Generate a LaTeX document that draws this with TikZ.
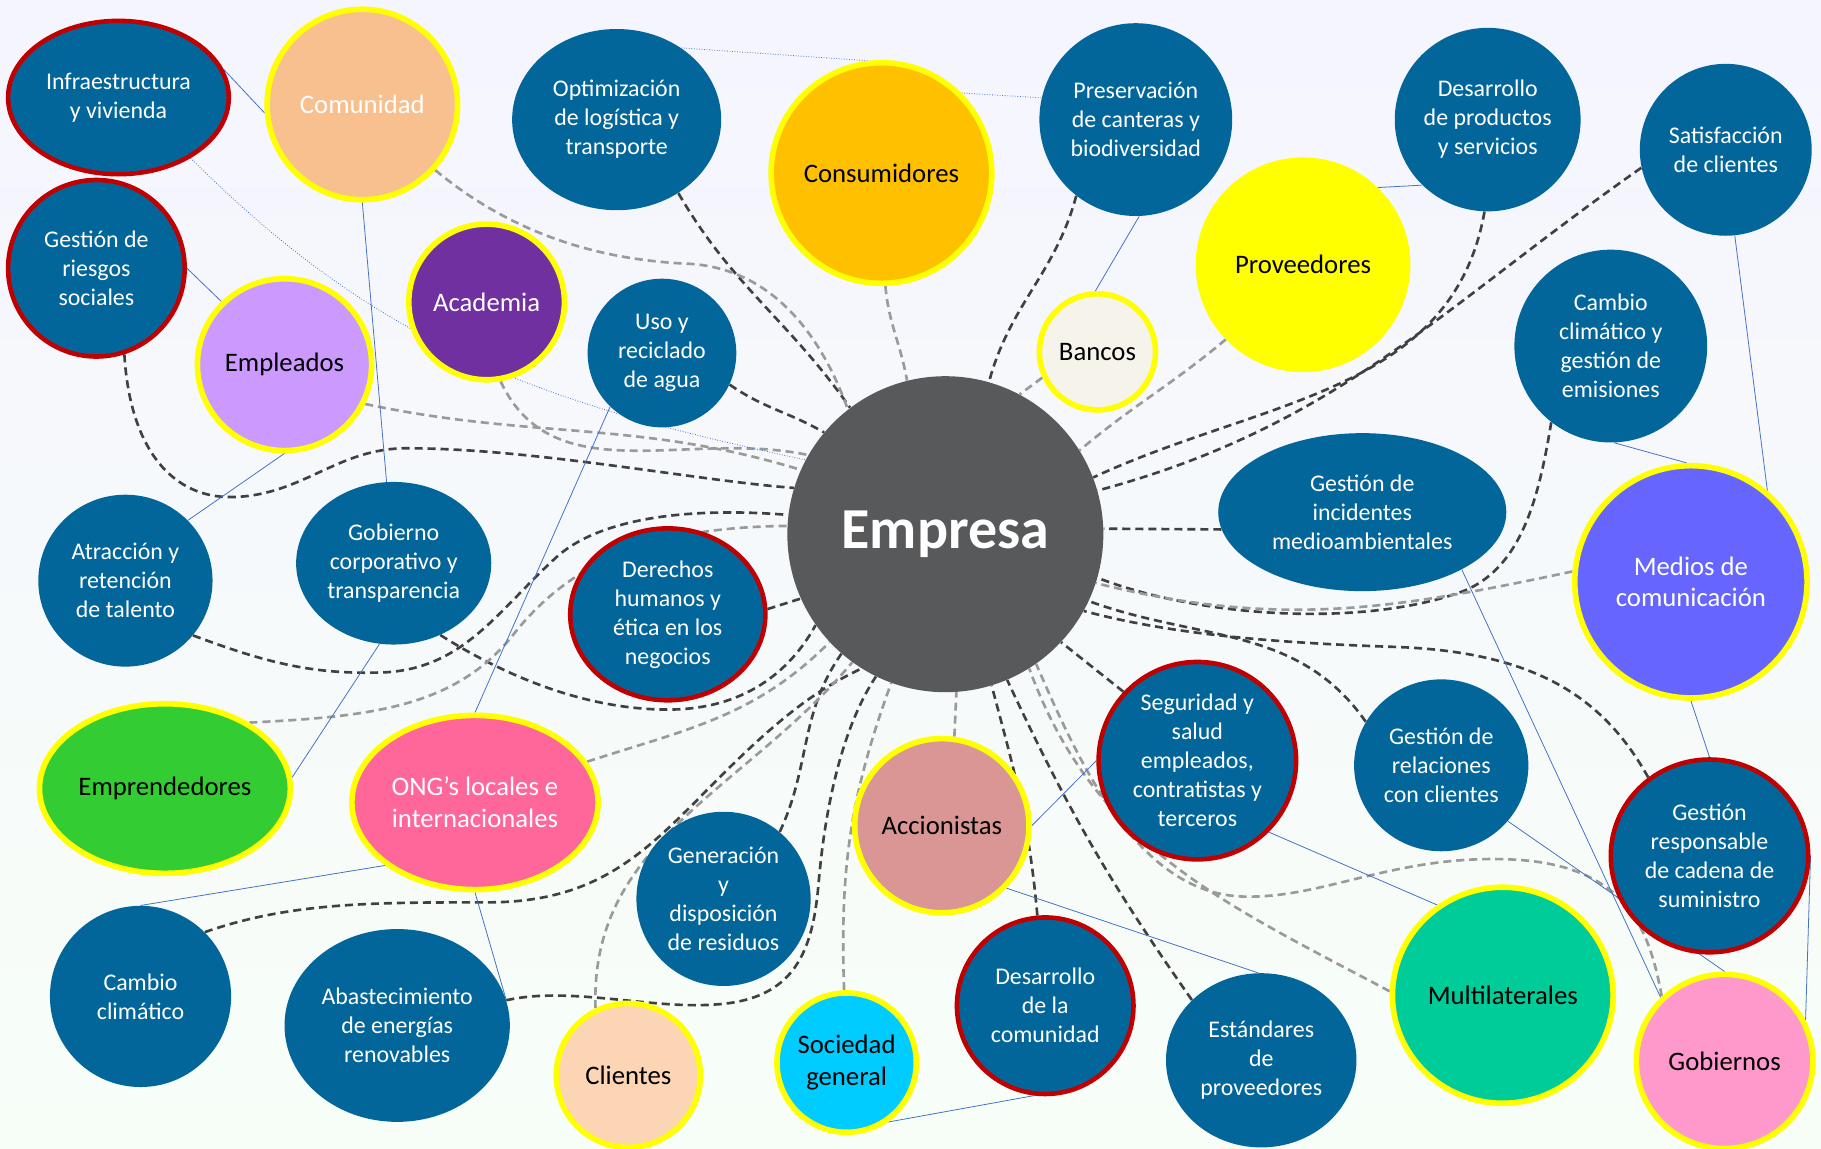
\documentclass[tikz,border=0pt]{standalone}
\usepackage{fontspec}
\setmainfont{Carlito}
\usetikzlibrary{shapes.geometric}

\definecolor{topicblue}{HTML}{03669A}
\definecolor{critred}{HTML}{C00000}
\definecolor{ringyellow}{HTML}{FFFF00}
\definecolor{darkdash}{HTML}{404040}
\definecolor{lightdash}{HTML}{9A9A9A}
\definecolor{linkblue}{HTML}{4472C4}
\definecolor{cEmpresa}{HTML}{58595B}
\definecolor{cComunidad}{HTML}{F9C08F}
\definecolor{cConsum}{HTML}{FFC000}
\definecolor{cProvee}{HTML}{FFFF00}
\definecolor{cBancos}{HTML}{F5F3EA}
\definecolor{cEmpleados}{HTML}{CC99FF}
\definecolor{cAcademia}{HTML}{7030A0}
\definecolor{cMedios}{HTML}{6666FF}
\definecolor{cEmprend}{HTML}{33CC33}
\definecolor{cOng}{HTML}{FF6699}
\definecolor{cAccion}{HTML}{D99694}
\definecolor{cClientes}{HTML}{FCD5B5}
\definecolor{cSociedad}{HTML}{00CCFF}
\definecolor{cMultilat}{HTML}{00CC99}
\definecolor{cGobiernos}{HTML}{FF99CC}

\pgfdeclarelayer{back}
\pgfdeclarelayer{links}
\pgfsetlayers{back,links,main}

\tikzset{
  topic/.style={ellipse, fill=topicblue, text=white, align=center, inner sep=-6pt,
    font=\fontsize{13.6}{16.5}\selectfont},
  critical/.style={topic, draw=critred, line width=2.6pt},
  group/.style={ellipse, draw=ringyellow, line width=3.2pt, align=center, inner sep=-6pt,
    font=\fontsize{15.2}{18}\selectfont},
  sz/.style 2 args={minimum width=#1*1.3218pt, minimum height=#2*1.3218pt},
  dk/.style={draw=darkdash, line width=1.5pt, dash pattern=on 4.6pt off 2.8pt},
  lt/.style={dk, draw=lightdash},
  bl/.style={draw=linkblue, line width=0.45pt},
}

\begin{document}
\begin{tikzpicture}[x=0.023228cm, y=0.023228cm]
\useasboundingbox (0,0) rectangle (1568,989);
\begin{pgfonlayer}{back}
\shade[top color=black!3!blue!4!white, bottom color=black!14!green!3!white] (0,0) rectangle (1568,989);
\end{pgfonlayer}

% top row
\node[critical, sz={95}{66}] (infra) at (102,905) {Infraestructura\\y vivienda};
\node[group, fill=cComunidad, text=white, sz={82}{82}] (comunidad) at (312,899) {Comunidad};
\node[topic, sz={90}{78}] (optim) at (531,886) {Optimización\\de logística y\\transporte};
\node[group, fill=cConsum, sz={95}{95}] (consum) at (759,840) {Consumidores};
\node[topic, sz={83}{83}] (preserv) at (978,886) {Preservación\\de canteras y\\biodiversidad};
\node[topic, sz={80}{79}] (desprod) at (1281,886) {Desarrollo\\de productos\\y servicios};
\node[topic, sz={74}{74}] (satisf) at (1486,860) {Satisfacción\\de clientes};

% second band
\node[critical, sz={76}{76}] (riesgos) at (83,758) {Gestión de\\riesgos\\sociales};
\node[group, fill=cEmpleados, sz={75}{74}] (emplead) at (245,675) {Empleados};
\node[group, fill=cAcademia, text=white, sz={67}{67}] (academia) at (419,729) {Academia};
\node[topic, sz={64}{64}] (agua) at (570,685) {Uso y\\reciclado\\de agua};
\node[group, fill=cBancos, sz={50}{50}] (bancos) at (945,686) {Bancos};
\node[group, fill=cProvee, sz={90}{90}] (provee) at (1122,761) {Proveedores};
\node[topic, sz={83}{83}] (emisiones) at (1387,691) {Cambio\\climático y\\gestión de\\emisiones};

% centre
\node[circle, fill=cEmpresa, text=white, minimum size=179.8pt,
  font=\fontsize{33}{38}\selectfont\bfseries] (empresa) at (814,529) {Empresa};
\node[topic, sz={124}{68}] (incidentes) at (1173,548) {Gestión de\\incidentes\\medioambientales};
\node[group, fill=cMedios, text=white, sz={100}{100}] (medios) at (1456,488) {Medios de\\comunicación};
\node[topic, sz={75}{74}] (talento) at (108,489) {Atracción y\\retención\\de talento};
\node[topic, sz={84}{70}] (gobcorp) at (339,504) {Gobierno\\corporativo y\\transparencia};
\node[critical, sz={84}{74}] (ddhh) at (575,460) {Derechos\\humanos y\\ética en los\\negocios};

% lower band
\node[group, fill=cEmprend, sz={108}{73}] (emprend) at (142,310) {Emprendedores};
\node[group, fill=cOng, text=white, sz={106}{75}] (ong) at (409,298) {ONG’s locales e\\internacionales};
\node[topic, sz={75}{75}] (residuos) at (623,215) {Generación\\y\\disposición\\de residuos};
\node[group, fill=cAccion, sz={75}{75}] (accion) at (811,278) {Accionistas};
\node[critical, sz={85}{85}] (seguridad) at (1031,334) {Seguridad y\\salud\\empleados,\\contratistas y\\terceros};
\node[topic, sz={75}{74}] (relclientes) at (1241,330) {Gestión de\\relaciones\\con clientes};
\node[critical, sz={85}{83}] (cadena) at (1472,252) {Gestión\\responsable\\de cadena de\\suministro};

% bottom row
\node[topic, sz={78}{78}] (cambio) at (121,131) {Cambio\\climático};
\node[topic, sz={97}{83}] (energias) at (342,106) {Abastecimiento\\de energías\\renovables};
\node[group, fill=cClientes, sz={62}{62}] (clientes) at (541,63) {Clientes};
\node[group, fill=cSociedad, sz={60}{60}] (sociedad) at (729,74) {Sociedad\\general};
\node[critical, sz={76}{76}] (descom) at (900,123) {Desarrollo\\de la\\comunidad};
\node[topic, sz={82}{75}] (estandares) at (1086,76) {Estándares\\de\\proveedores};
\node[group, fill=cMultilat, sz={95}{93}] (multilat) at (1294,132) {Multilaterales};
\node[group, fill=cGobiernos, sz={76}{75}] (gobiernos) at (1485,75) {Gobiernos};

\begin{pgfonlayer}{links}
% dark dashed ties to Empresa
\draw[dk] (optim.-50) to[out=-60,in=125] (empresa.127);
\draw[dk] (agua.-25) to[out=-35,in=150] (empresa.140);
\draw[dk] (preserv.-128) to[out=-105,in=75] (empresa.74);
\draw[dk] (desprod.-92) to[out=-100,in=25] (empresa.21);
\draw[dk] (satisf.192) to[out=215,in=15] (empresa.16);
\draw[dk] (emisiones.-128) .. controls (1325,560) and (1310,500) .. (1260,480)
  .. controls (1180,450) and (1040,455) .. (empresa.-16);
\draw[dk] (incidentes.187) -- (empresa.2);
\draw[dk] (relclientes.150) to[out=125,in=-20] (empresa.-25);
\draw[dk] (cadena.128) .. controls (1380,390) and (1320,428) .. (1200,432)
  .. controls (1080,436) and (1000,445) .. (empresa.-29);
\draw[dk] (seguridad.137) -- (empresa.-43);
\draw[dk] (estandares.139) to[out=125,in=-65] (empresa.-67);
\draw[dk] (descom.95) to[out=95,in=-75] (empresa.-73);
\draw[dk] (residuos.50) to[out=65,in=235] (empresa.229);
\draw[dk] (energias.13) .. controls (490,140) and (560,120) .. (615,124)
  .. controls (685,128) and (700,170) .. (705,230)
  .. controls (712,310) and (730,370) .. (empresa.244);
\draw[dk] (cambio.45) .. controls (250,212) and (320,212) .. (420,212)
  .. controls (520,212) and (560,260) .. (620,320)
  .. controls (680,380) and (710,398) .. (empresa.238);
\draw[dk] (ddhh.3) -- (empresa.204);
\draw[dk] (gobcorp.-57) .. controls (430,410) and (500,378) .. (575,378)
  .. controls (640,378) and (680,410) .. (empresa.215);
\draw[dk] (talento.-39) .. controls (230,418) and (270,408) .. (330,410)
  .. controls (400,413) and (430,465) .. (480,510)
  .. controls (520,545) and (600,552) .. (empresa.173);
\draw[dk] (riesgos.-72) .. controls (112,600) and (150,560) .. (200,561)
  .. controls (260,562) and (290,603) .. (350,603)
  .. controls (460,603) and (600,575) .. (empresa.163);

% light dashed ties to Empresa
\draw[lt] (comunidad.-42) .. controls (450,780) and (530,765) .. (590,762)
  .. controls (650,760) and (700,720) .. (empresa.128);
\draw[lt] (academia.-80) to[out=-65,in=168] (empresa.150);
\draw[lt] (emplead.-26) to[out=-12,in=163] (empresa.156);
\draw[lt] (emprend.38) .. controls (320,372) and (390,380) .. (440,440)
  .. controls (490,505) and (560,535) .. (empresa.177);
\draw[lt] (ong.20) to[out=18,in=225] (empresa.223);
\draw[lt] (clientes.116) to[out=92,in=230] (empresa.234);
\draw[lt] (sociedad.92) to[out=92,in=250] (empresa.250);
\draw[lt] (accion.82) -- (empresa.-86);
\draw[lt] (multilat.178) to[out=152,in=-70] (empresa.-58);
\draw[lt] (gobiernos.134) .. controls (1420,190) and (1400,245) .. (1300,249)
  .. controls (1200,253) and (1140,215) .. (1070,217)
  .. controls (980,220) and (930,330) .. (empresa.-55);
\draw[lt] (medios.175) to[out=192,in=-14] (empresa.-18);
\draw[lt] (provee.-136) to[out=-140,in=40] (empresa.32);
\draw[lt] (bancos.-155) -- (empresa.62);
\draw[lt] (consum.-88) to[out=-85,in=100] (empresa.104);

% thin blue links
\draw[bl] (infra.15) -- (comunidad.185);
\draw[bl, densely dotted] (infra.-40) to[out=-45,in=168] (empresa.152);
\draw[bl, densely dotted] (optim.48) -- (consum.97);
\draw[bl, densely dotted] (consum.45) -- (preserv.167);
\draw[bl] (preserv.-88) -- (bancos.92);
\draw[bl] (provee.46) -- (desprod.-135);
\draw[bl] (satisf.-84) -- (medios.50);
\draw[bl] (emisiones.-88) -- (medios.92);
\draw[bl] (comunidad.-90) -- (gobcorp.95);
\draw[bl] (riesgos.0) -- (emplead.135);
\draw[bl] (emplead.-90) -- (talento.44);
\draw[bl] (agua.-134) -- (ong.90);
\draw[bl] (gobcorp.-100) -- (emprend.5);
\draw[bl] (ong.-145) -- (cambio.90);
\draw[bl] (ong.-90) -- (energias.13);
\draw[bl] (sociedad.-55) -- (descom.-97);
\draw[bl] (accion.0) -- (seguridad.180);
\draw[bl] (accion.-44) -- (estandares.92);
\draw[bl] (seguridad.-45) -- (multilat.126);
\draw[bl] (relclientes.-40) -- (gobiernos.90);
\draw[bl] (incidentes.-30) -- (gobiernos.135);
\draw[bl] (medios.-90) -- (cadena.90);
\draw[bl] (cadena.0) -- (gobiernos.27);
\end{pgfonlayer}
\end{tikzpicture}
\end{document}
